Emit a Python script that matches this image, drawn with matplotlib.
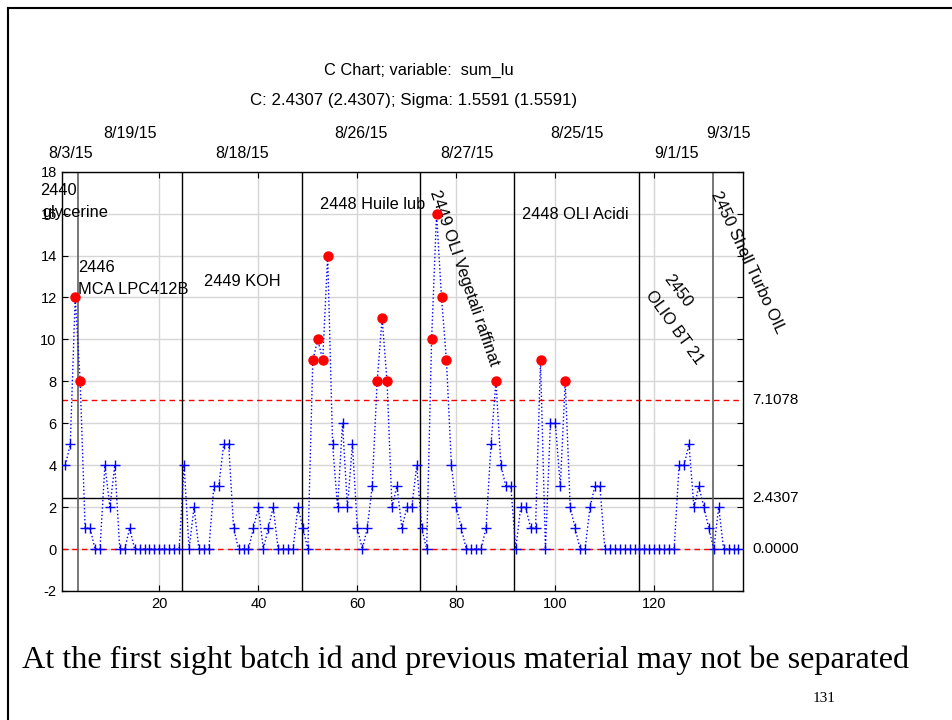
import matplotlib
matplotlib.use("Agg")
import matplotlib.pyplot as plt
from matplotlib.lines import Line2D
import numpy as np

plt.rcParams['font.family'] = ['Liberation Sans', 'DejaVu Sans']
plt.rcParams['axes.unicode_minus'] = False

# ---- data ----
values = [4, 5, 12, 8, 1, 1, 0, 0, 4, 2, 4, 0, 0, 1,
          0, 0, 0, 0, 0, 0, 0, 0, 0, 0,
          4, 0, 2, 0, 0, 0, 3, 3, 5, 5, 1, 0, 0, 0, 1, 2, 0, 1, 2, 0, 0, 0, 0, 2, 1, 0,
          9, 10, 9, 14, 5, 2, 6, 2, 5, 1, 0, 1, 3, 8, 11, 8, 2, 3, 1, 2, 2, 4,
          1, 0, 10, 16, 12, 9, 4, 2, 1, 0, 0, 0, 0, 1, 5, 8, 4, 3, 3,
          0, 2, 2, 1, 1, 9, 0, 6, 6, 3, 8, 2, 1, 0, 0, 2, 3, 3,
          0, 0, 0, 0, 0, 0, 0, 0, 0, 0, 0, 0, 0, 0, 0,
          4, 4, 5, 2, 3, 2, 1, 0, 2, 0, 0, 0, 0]
center = 2.4307
ucl = 7.1078
lcl = 0.0
batch_lines = [3.5, 24.6, 48.75, 72.7, 91.7, 116.8, 131.8]
batch_line_colors = ['#606060', 'black', 'black', 'black', 'black', 'black', '#606060']
date_labels = ['8/3/15', '8/19/15', '8/18/15', '8/26/15', '8/27/15', '8/25/15', '9/1/15', '9/3/15']
date_pos = [2.15, 14.1, 36.7, 60.7, 82.2, 104.4, 124.4, 134.9]
date_row = [1, 0, 1, 0, 1, 0, 1, 0]
x_ticks = [20, 40, 60, 80, 100, 120]
y_ticks = [-2, 0, 2, 4, 6, 8, 10, 12, 14, 16, 18]

x = np.arange(1, len(values) + 1)
v = np.array(values, dtype=float)

W, H = 953, 720
fig = plt.figure(figsize=(W / 100, H / 100), dpi=100)
L, R, T, B = 62.3, 742.7, 171.7, 591
ax = fig.add_axes([L / W, 1 - B / H, (R - L) / W, (B - T) / H])

ax.set_xlim(0.39, 137.85)
ax.set_ylim(-2, 18)
ax.set_xticks(x_ticks)
ax.set_yticks(y_ticks)
ax.grid(True, color='#d6d6d6', lw=1.0)
ax.set_axisbelow(True)
ax.tick_params(direction='in', top=True, right=True, labelsize=10.5, length=4,
               colors='black', pad=4)
for s in ax.spines.values():
    s.set_color('black')
    s.set_linewidth(1.0)

# control lines
ax.axhline(ucl, color='#ff0000', ls=(0, (4, 3)), lw=1.0, zorder=2)
ax.axhline(lcl, color='#ff0000', ls=(0, (4, 3)), lw=1.0, zorder=2)
ax.axhline(center, color='black', lw=1.0, zorder=2)

# batch separators
for bx, bc in zip(batch_lines, batch_line_colors):
    ax.axvline(bx, color=bc, lw=1.2 if bc != 'black' else 1.0, zorder=2)

# data
ax.plot(x, v, color='#0000ff', ls=':', lw=1.0, zorder=3)
ok = v <= ucl
ax.plot(x[ok], v[ok], ls='none', marker='+', ms=6.5, mew=1.0, color='#0000ff', zorder=4)
ax.plot(x[~ok], v[~ok], ls='none', marker='o', ms=6.5, color='#ff0000', mec='#ff0000', zorder=5)

# right-side labels
tr = ax.get_yaxis_transform()
for val, lab in [(ucl, '7.1078'), (center, '2.4307'), (lcl, '0.0000')]:
    ax.text(1.0137, val, lab, transform=tr, ha='left', va='center', fontsize=11)

# top date labels
txf = ax.get_xaxis_transform()
for p, lab, r in zip(date_pos, date_labels, date_row):
    yy = 1.0900 if r == 0 else 1.0430
    ax.text(p, yy, lab, transform=txf, ha='center', va='center', fontsize=11.5)

# annotations
fs = 11.8
ax.text(-4.1, 17.1, '2440', ha='left', va='center', fontsize=fs, clip_on=False)
ax.text(-3.7, 16.05, 'glycerine', ha='left', va='center', fontsize=fs, clip_on=False)
ax.text(3.57, 13.43, '2446', ha='left', va='center', fontsize=fs)
ax.text(3.57, 12.38, 'MCA LPC412B', ha='left', va='center', fontsize=fs)
ax.text(29.0, 12.76, '2449 KOH', ha='left', va='center', fontsize=fs)
ax.text(52.45, 16.43, '2448 Huile lub', ha='left', va='center', fontsize=fs)
ax.text(93.3, 15.95, '2448 OLI Acidi', ha='left', va='center', fontsize=fs)
ax.text(74.7, 17.05, '2449 OLI Vegetali raffinat', rotation=-71, rotation_mode='anchor',
        ha='left', va='baseline', fontsize=fs, clip_on=False)
ax.text(131.4, 16.95, '2450 Shell Turbo OIL', rotation=-65, rotation_mode='anchor',
        ha='left', va='baseline', fontsize=fs, clip_on=False)
ax.text(124.8, 12.33, '2450', rotation=-53, rotation_mode='anchor',
        ha='center', va='center', fontsize=fs)
ax.text(124.0, 10.59, 'OLIO BT 21', rotation=-54, rotation_mode='anchor',
        ha='center', va='center', fontsize=fs)

# titles
fig.text(419 / W, 1 - 70 / H, 'C Chart; variable:  sum_lu', ha='center', va='center', fontsize=11.8)
fig.text(414 / W, 1 - 100 / H, 'C: 2.4307 (2.4307); Sigma: 1.5591 (1.5591)',
         ha='center', va='center', fontsize=12.2)

# slide text
fig.text(22 / W, 1 - 660 / H, 'At the first sight batch id and previous material may not be separated',
         ha='left', va='center', fontsize=23.1, family=['Liberation Serif', 'DejaVu Serif'])
fig.text(824 / W, 1 - 699 / H, '131', ha='center', va='center', fontsize=11,
         family=['Liberation Serif', 'DejaVu Serif'])

# slide frame
fig.add_artist(Line2D([8 / W, 8 / W], [0, 1 - 8 / H], transform=fig.transFigure, color='black', lw=1.5))
fig.add_artist(Line2D([8 / W, 1], [1 - 8 / H, 1 - 8 / H], transform=fig.transFigure, color='black', lw=1.5))

fig.savefig('out.png', dpi=100)
